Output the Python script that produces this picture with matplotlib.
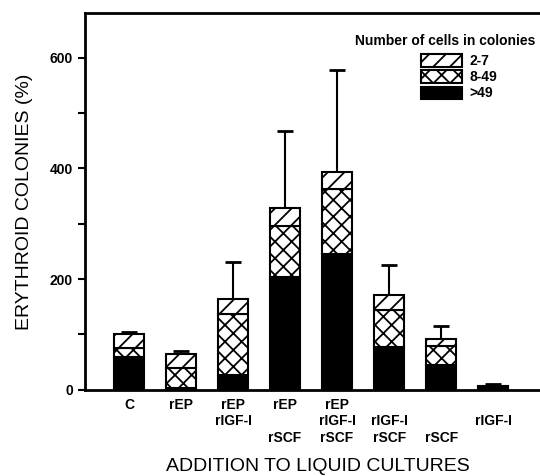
import numpy as np
import matplotlib.pyplot as plt
from matplotlib.patches import Patch

plt.rcParams['font.family'] = ['Liberation Sans', 'DejaVu Sans']
plt.rcParams['hatch.linewidth'] = 1.3

# treatments (x tick labels), stacked segments by colony size
labels = ['C', 'rEP', 'rEP\nrIGF-I', 'rEP\n\nrSCF', 'rEP\nrIGF-I\nrSCF',
          '\nrIGF-I\nrSCF', '\n\nrSCF', '\nrIGF-I']
big = [60, 3, 26, 203, 245, 77, 44, 5]        # >49 cells
mid = [15, 36, 111, 93, 117, 67, 36, 1]       # 8-49 cells
small = [26, 26, 28, 33, 32, 27, 11, 1]       # 2-7 cells
err_top = [105, 71, 231, 467, 577, 226, 116, 10]

x = np.arange(len(labels))
w = 0.58
big = np.array(big)
mid = np.array(mid)
small = np.array(small)
total = big + mid + small
err = np.array(err_top) - total

fig = plt.figure(figsize=(5.4, 4.76), dpi=100)
ax = fig.add_axes([0.157, 0.181, 0.843, 0.792])

ax.bar(x, big, w, color='black', edgecolor='black', linewidth=1.5, zorder=2)
ax.bar(x, mid, w, bottom=big, color='white', edgecolor='black',
       hatch='xx', linewidth=1.5, zorder=2)
ax.bar(x, small, w, bottom=big + mid, color='white', edgecolor='black',
       hatch='//', linewidth=1.5, zorder=2)
ax.errorbar(x, total, yerr=[np.zeros_like(err), err], fmt='none',
            ecolor='black', elinewidth=1.5, capsize=6, capthick=2, zorder=1)

ax.set_xlim(-0.85, 7.9)
ax.set_ylim(0, 681)
ax.set_yticks([0, 200, 400, 600])
ax.set_yticks([100, 300, 500], minor=True)
ax.tick_params(axis='y', which='both', direction='out', length=5, width=1.5)
ax.tick_params(axis='y', labelsize=10)
ax.tick_params(axis='x', length=0, pad=6, labelsize=10)
for t in ax.get_yticklabels():
    t.set_fontweight('bold')
ax.set_xticks(x)
ax.set_xticklabels(labels, fontweight='bold', linespacing=1.2, va='top')

ax.spines['right'].set_visible(False)
for s in ['left', 'top', 'bottom']:
    ax.spines[s].set_linewidth(2)

ax.set_ylabel('ERYTHROID COLONIES (%)', fontsize=14, labelpad=12)
ax.set_xlabel('ADDITION TO LIQUID CULTURES', fontsize=14)
ax.xaxis.set_label_coords(0.512, -0.18)

# legend title drawn separately to get the wider gap seen in the original
ax.text(0.792, 0.926, 'Number of cells in colonies', transform=ax.transAxes,
        ha='center', va='center', fontsize=10, fontweight='bold')
handles = [Patch(facecolor='white', edgecolor='black', hatch='//', linewidth=1.5),
           Patch(facecolor='white', edgecolor='black', hatch='xx', linewidth=1.5),
           Patch(facecolor='black', edgecolor='black', linewidth=1.5)]
leg = ax.legend(handles, ['2-7', '8-49', '>49'], loc='upper left',
                bbox_to_anchor=(0.738, 0.89), frameon=False, fontsize=10,
                handlelength=3.0, handleheight=1.0, labelspacing=0.15,
                handletextpad=0.5, borderaxespad=0, borderpad=0)
for t in leg.get_texts():
    t.set_fontweight('bold')

fig.savefig('out.png', dpi=100)
